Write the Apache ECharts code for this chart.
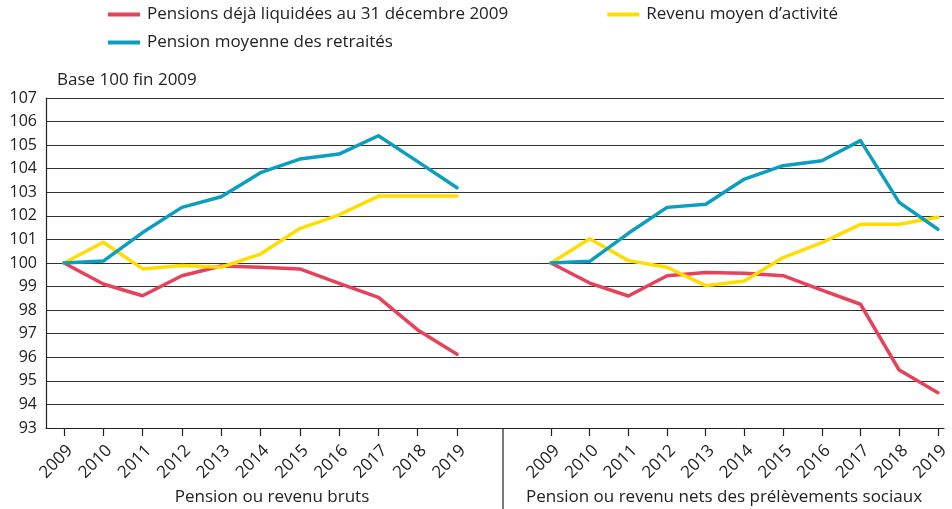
<!DOCTYPE html>
<html><head><meta charset="utf-8">
<script src="https://cdn.jsdelivr.net/npm/echarts@6/dist/echarts.min.js"></script>
<style>html,body{margin:0;padding:0;background:#fff}#c{width:952px;height:509px}</style>
</head><body><div id="c"></div>
<script>
const years = ['2009','2010','2011','2012','2013','2014','2015','2016','2017','2018','2019'];
const seriesNames = ['Pensions déjà liquidées au 31 décembre 2009','Revenu moyen d’activité','Pension moyenne des retraités'];
const panelTitles = ['Pension ou revenu bruts','Pension ou revenu nets des prélèvements sociaux'];
const yTitle = 'Base 100 fin 2009';
// Left panel (brut)
const brutLiquidees = [100, 99.11, 98.61, 99.46, 99.87, 99.82, 99.75, 99.14, 98.54, 97.16, 96.13];
const brutRevenu    = [100, 100.88, 99.75, 99.89, 99.82, 100.38, 101.46, 102.04, 102.84, 102.84, 102.84];
const brutPension   = [100, 100.08, 101.29, 102.36, 102.81, 103.83, 104.41, 104.62, 105.40, 104.30, 103.19];
// Right panel (net)
const netLiquidees = [100, 99.15, 98.60, 99.46, 99.60, 99.56, 99.46, 98.85, 98.25, 95.46, 94.50];
const netRevenu    = [100, 101.03, 100.10, 99.82, 99.04, 99.24, 100.23, 100.86, 101.64, 101.64, 101.94];
const netPension   = [100, 100.07, 101.26, 102.36, 102.49, 103.56, 104.13, 104.34, 105.19, 102.57, 101.43];

const colors = ['#E8415B', '#FFDD00', '#0A9EC0'];
const FONT = 'Open Sans';
const TXT = '#222';

function mk(name, data, idx, color) {
  return {name, type:'line', data, xAxisIndex: idx, yAxisIndex: idx, symbol:'none',
    lineStyle:{width:3.5, color, cap:'round', join:'round'}, itemStyle:{color}, animation:false};
}
const yBase = {type:'value', min:93, max:107, interval:1};
const catAxis = (gi) => ({type:'category', gridIndex:gi, data:years, boundaryGap:false,
  axisLine:{show:false}, axisTick:{show:true, alignWithLabel:true, length:8, lineStyle:{color:'#222', width:1.2}},
  axisLabel:{rotate:45, fontFamily:FONT, fontSize:17, color:TXT, margin:14, interval:0, align:'right', verticalAlign:'top'}});

const chart = echarts.init(document.getElementById('c'), null, {renderer:'canvas'});
chart.setOption({
  animation:false,
  textStyle:{fontFamily:FONT},
  legend:[
    {data:[seriesNames[0], seriesNames[1]], left:108, top:6, padding:0, itemWidth:32, itemHeight:4, itemGap:99,
     icon:'rect', textStyle:{fontFamily:FONT, fontSize:17, color:TXT, padding:[0,0,0,2]}},
    {data:[seriesNames[2]], left:108, top:34, padding:0, itemWidth:32, itemHeight:4,
     icon:'rect', textStyle:{fontFamily:FONT, fontSize:17, color:TXT, padding:[0,0,0,2]}}
  ],
  grid:[
    {left:46, right:8, top:98, bottom:81},
    {left:64, right:495, top:98, bottom:81},
    {left:551, right:9, top:98, bottom:81}
  ],
  xAxis:[
    {type:'value', gridIndex:0, min:0, max:1, axisLine:{show:true, onZero:false, lineStyle:{color:'#222', width:1.2}},
     axisTick:{show:false}, axisLabel:{show:false}, splitLine:{show:false}},
    catAxis(1), catAxis(2)
  ],
  yAxis:[
    Object.assign({gridIndex:0, axisLine:{show:true, lineStyle:{color:'#222', width:1.2}}, axisTick:{show:false},
      axisLabel:{fontFamily:FONT, fontSize:16, color:TXT, margin:9},
      splitLine:{show:true, lineStyle:{color:'#333', width:1}}}, yBase),
    Object.assign({gridIndex:1, show:false, splitLine:{show:false}}, yBase),
    Object.assign({gridIndex:2, show:false, splitLine:{show:false}}, yBase)
  ],
  graphic:[
    {type:'text', left:57, top:72, style:{text:yTitle, font:'17px "Open Sans"', fill:TXT}},
    {type:'text', x:272, y:497, style:{text:panelTitles[0], font:'17px "Open Sans"', fill:TXT, textAlign:'center', textVerticalAlign:'middle'}},
    {type:'text', x:724, y:497, style:{text:panelTitles[1], font:'17px "Open Sans"', fill:TXT, textAlign:'center', textVerticalAlign:'middle'}},
    {type:'line', shape:{x1:503, y1:428, x2:503, y2:509}, style:{stroke:'#222', lineWidth:1.2}}
  ],
  series:[
    mk(seriesNames[0], brutLiquidees, 1, colors[0]),
    mk(seriesNames[1], brutRevenu, 1, colors[1]),
    mk(seriesNames[2], brutPension, 1, colors[2]),
    mk(seriesNames[0], netLiquidees, 2, colors[0]),
    mk(seriesNames[1], netRevenu, 2, colors[1]),
    mk(seriesNames[2], netPension, 2, colors[2])
  ]
});
</script></body></html>
